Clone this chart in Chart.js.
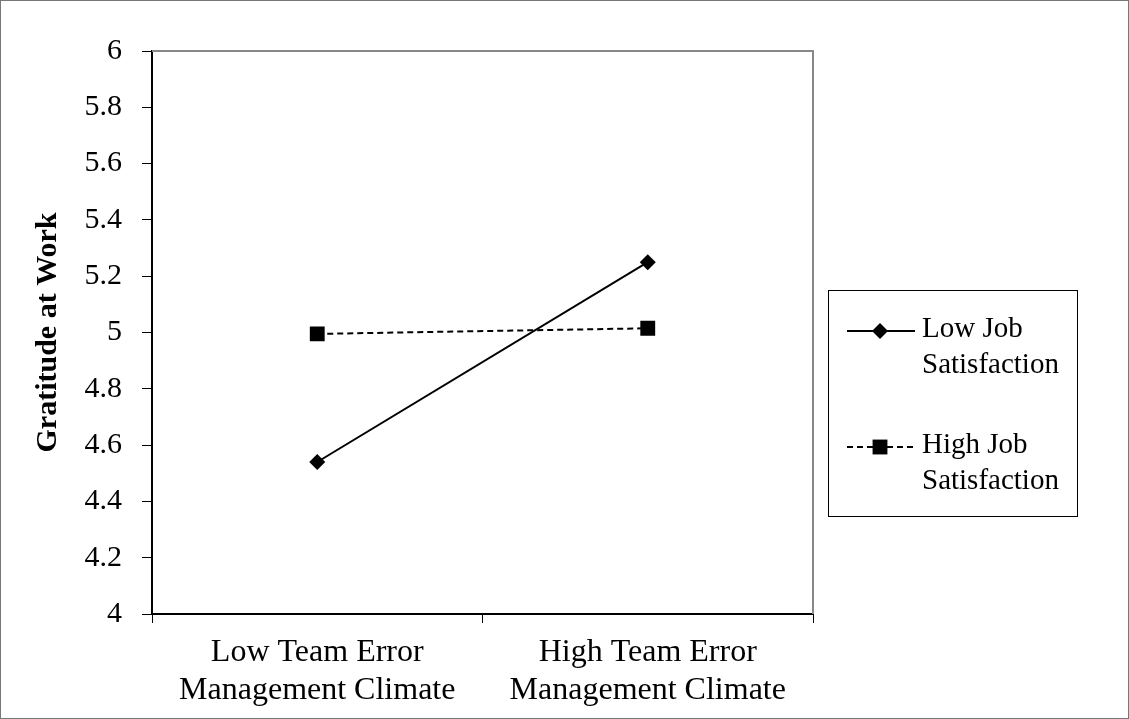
<!DOCTYPE html>
<html><head><meta charset="utf-8">
<script src="https://cdn.jsdelivr.net/npm/chart.js@4.4.1/dist/chart.umd.min.js"></script>
<style>html,body{margin:0;padding:0;background:#fff}#wrap{width:1129px;height:719px}</style>
</head><body><div id="wrap"><canvas id="c" width="1129" height="719"></canvas></div>
<script>
const categories = [["Low Team Error","Management Climate"],["High Team Error","Management Climate"]];
const seriesNames = [["Low Job","Satisfaction"],["High Job","Satisfaction"]];
const lowJobSatisfaction = [4.54, 5.25];
const highJobSatisfaction = [4.995, 5.015];
const yTicks = [4,4.2,4.4,4.6,4.8,5,5.2,5.4,5.6,5.8,6];

const FONT = "'Liberation Serif','Times New Roman',serif";

const framePlugin = {
  id:'frame',
  beforeDraw(chart){
    const ctx = chart.ctx;
    ctx.save();
    ctx.fillStyle='#fff';
    ctx.fillRect(0,0,chart.width,chart.height);
    ctx.restore();
  },
  afterDraw(chart){
    const ctx = chart.ctx, a = chart.chartArea;
    ctx.save();
    ctx.strokeStyle='#777'; ctx.lineWidth=1;
    ctx.strokeRect(0.5,0.5,chart.width-1,chart.height-1);
    ctx.strokeStyle='#888'; ctx.lineWidth=2;
    ctx.beginPath();
    ctx.moveTo(a.left, a.top); ctx.lineTo(a.right, a.top); ctx.lineTo(a.right, a.bottom);
    ctx.stroke();
    // legend
    const lx=828.5, ly=290.5, lw=249, lh=226;
    ctx.strokeStyle='#000'; ctx.lineWidth=1;
    ctx.strokeRect(lx,ly,lw,lh);
    ctx.font = "29px " + FONT;
    ctx.textBaseline='middle';
    const rows=[331,447];
    chart.data.datasets.forEach((ds,i)=>{
      const y=rows[i];
      ctx.save();
      ctx.strokeStyle=ds.borderColor; ctx.lineWidth=ds.borderWidth;
      ctx.setLineDash(ds.borderDash||[]);
      ctx.beginPath(); ctx.moveTo(847,y); ctx.lineTo(915,y); ctx.stroke();
      ctx.restore();
      ctx.fillStyle='#000';
      Chart.helpers.drawPoint(ctx,{pointStyle:ds.pointStyle, radius:ds.pointRadius, rotation:0, borderWidth:0},880,y);
      ctx.fillStyle='#000';
      ctx.textAlign='left';
      ctx.fillText(seriesNames[i][0],922,y-2);
      ctx.fillText(seriesNames[i][1],922,y+34);
    });
    ctx.restore();
  }
};

new Chart(document.getElementById('c'),{
  type:'line',
  data:{
    labels:categories,
    datasets:[
      {label:seriesNames[0].join(' '),data:lowJobSatisfaction,borderColor:'#000',backgroundColor:'#000',borderWidth:2,
       pointStyle:'rectRot',pointRadius:8,pointBorderWidth:0,pointBackgroundColor:'#000',tension:0},
      {label:seriesNames[1].join(' '),data:highJobSatisfaction,borderColor:'#000',backgroundColor:'#000',borderWidth:2,borderDash:[6,4],
       pointStyle:'rect',pointRadius:10.5,pointBorderWidth:0,pointBackgroundColor:'#000',tension:0}
    ]
  },
  options:{
    responsive:false,animation:false,
    layout:{padding:{left:0,top:51,right:316,bottom:0}},
    plugins:{legend:{display:false},tooltip:{enabled:false}},
    scales:{
      x:{
        offset:true,
        grid:{offset:true,drawOnChartArea:false,drawTicks:true,tickLength:9,color:'#000',tickColor:'#000',lineWidth:1},
        border:{color:'#000',width:2},
        ticks:{color:'#000',font:{family:FONT,size:32,lineHeight:1.17},padding:11,maxRotation:0,autoSkip:false},
        afterFit(s){s.height=105;}
      },
      y:{
        min:4,max:6,
        afterBuildTicks(s){s.ticks=yTicks.map(v=>({value:v}));},
        grid:{drawOnChartArea:false,drawTicks:true,tickLength:10,color:'#000',tickColor:'#000'},
        border:{color:'#000',width:2},
        ticks:{color:'#000',font:{family:FONT,size:30},padding:20,callback:v=>String(v)},
        title:{display:true,text:'Gratitude at Work',color:'#000',font:{family:FONT,size:30,weight:'bold'},padding:{top:30,bottom:10}},
        afterFit(s){s.width=152;}
      }
    }
  },
  plugins:[framePlugin]
});
</script></body></html>
